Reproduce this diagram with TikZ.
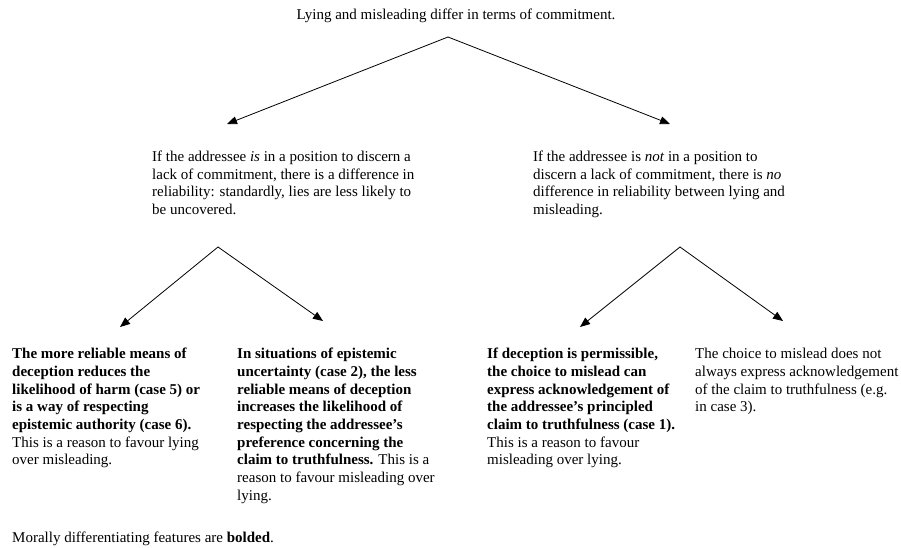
\documentclass[tikz,border=0pt]{standalone}
\usepackage{fontspec}
\setmainfont{Liberation Serif}
\usetikzlibrary{arrows.meta}
\begin{document}
\begin{tikzpicture}[x=1pt, y=-1pt, font=\fontsize{15}{17.7}\selectfont, line join=round, line cap=round, >={Triangle[length=10pt,width=8pt]},
		txt/.style={inner sep=0pt, align=left, anchor=north west}]
					\useasboundingbox (0,0) rectangle (901,548);
					\node[inner sep=0pt, anchor=base] (top) at (456,19.5) {Lying and misleading differ in terms of commitment.};
					\node[txt] (midL) at (152,150.6) {If the addressee \textit{is} in a position to discern a\\lack of commitment, there is a difference in\\reliability: standardly, lies are less likely to\\be uncovered.};
					\node[txt] (midR) at (533,150.6) {If the addressee is \textit{not} in a position to\\discern a lack of commitment, there is \textit{no}\\difference in reliability between lying and\\misleading.};
					\node[txt] (botA) at (12,348) {\textbf{The more reliable means of}\\\textbf{deception reduces the}\\\textbf{likelihood of harm (case 5) or}\\\textbf{is a way of respecting}\\\textbf{epistemic authority (case 6).}\\This is a reason to favour lying\\over misleading.};
					\node[txt] (botB) at (237,348) {\textbf{In situations of epistemic}\\\textbf{uncertainty (case 2), the less}\\\textbf{reliable means of deception}\\\textbf{increases the likelihood of}\\\textbf{respecting the addressee's}\\\textbf{preference concerning the}\\\textbf{claim to truthfulness.} This is a\\reason to favour misleading over\\lying.};
					\node[txt] (botC) at (487,348) {\textbf{If deception is permissible,}\\\textbf{the choice to mislead can}\\\textbf{express acknowledgement of}\\\textbf{the addressee's principled}\\\textbf{claim to truthfulness (case 1).}\\This is a reason to favour\\misleading over lying.};
					\node[txt] (botD) at (695,348) {The choice to mislead does not\\always express acknowledgement\\of the claim to truthfulness (e.g.\\in case 3).};
					\node[inner sep=0pt, anchor=base west] (note) at (12,542.5) {Morally differentiating features are \textbf{bolded}.};
					\coordinate (T) at (448,37);
					\coordinate (TL) at (227,124);
					\coordinate (TR) at (670,124);
					\coordinate (L) at (218,247);
					\coordinate (LL) at (120,327);
					\coordinate (LR) at (323,321);
					\coordinate (R) at (680,247);
					\coordinate (RL) at (580,327);
					\coordinate (RR) at (783,321);
					\draw[->, line width=0.8pt] (T)--(TL);
					\draw[->, line width=0.8pt] (T)--(TR);
					\draw[->, line width=0.8pt] (L)--(LL);
					\draw[->, line width=0.8pt] (L)--(LR);
					\draw[->, line width=0.8pt] (R)--(RL);
					\draw[->, line width=0.8pt] (R)--(RR);
			\end{tikzpicture}
\end{document}
